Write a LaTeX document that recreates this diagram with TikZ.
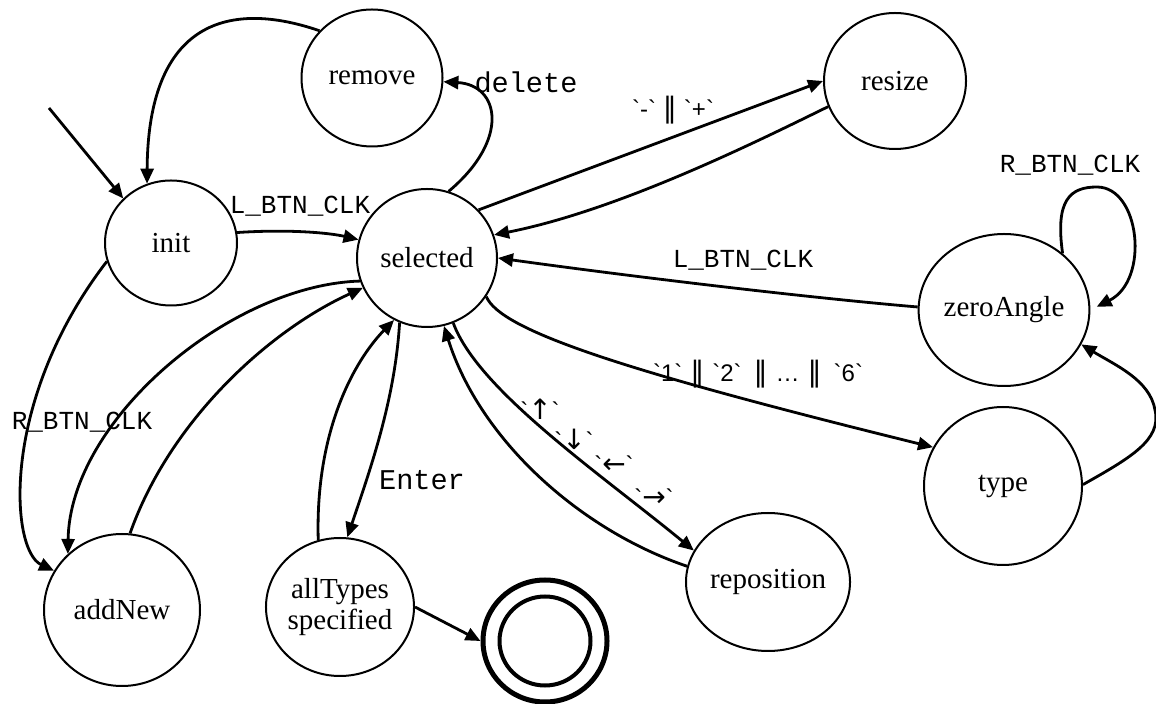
\documentclass[tikz,border=0pt]{standalone}
\usepackage{fontspec}
\setmainfont{Liberation Serif}
\newfontfamily\lblmono{Liberation Mono}
\newfontfamily\lblsans[Ligatures=TeXOff]{Liberation Sans}
\newfontfamily\lblsym{DejaVu Sans}
\usetikzlibrary{arrows.meta,shapes.geometric}
\newcommand{\dvbar}{{\lblsym\fontsize{14}{16}\selectfont ‖}}
\newcommand{\arr}[1]{{\lblsym\fontsize{14}{16}\selectfont #1}}
\tikzset{
  state/.style={draw, ellipse, line width=1pt, inner sep=0pt, outer sep=0.5pt,
    font=\fontsize{14.5}{15.5}\selectfont, align=center},
  accept/.style={draw, ellipse, line width=2.5pt, inner sep=0pt},
  tr/.style={line width=1.4pt, -{Triangle[length=7.5pt,width=6.5pt]}},
  monolbl/.style={inner sep=0pt, font=\lblmono\fontsize{13}{15}\selectfont},
  monobig/.style={inner sep=0pt, font=\lblmono\fontsize{14.3}{16}\selectfont},
  keylbl/.style={inner sep=0pt, font=\lblsans\fontsize{12}{14}\selectfont}
}
\begin{document}
\begin{tikzpicture}[x=0.5pt,y=-0.5pt]
\useasboundingbox (0,0) rectangle (1156,704);

% states
\node[state, minimum width=70.5pt, minimum height=68.5pt] (remove) at (372,78) {remove};
\node[state, minimum width=66pt, minimum height=62.5pt] (init) at (171,243) {init};
\node[state, minimum width=70pt, minimum height=69pt] (selected) at (427,258) {selected};
\node[state, minimum width=71pt, minimum height=68pt] (resize) at (895,81) {resize};
\node[state, minimum width=78pt, minimum height=76pt] (zeroAngle) at (1004,310) {zeroAngle};
\node[state, minimum width=79pt, minimum height=79pt] (type) at (1003,486) {type};
\node[state, minimum width=71pt, minimum height=69pt] (reposition) at (768,582) {reposition};
\node[state, minimum width=71pt, minimum height=69pt] (allTypes) at (340,607) {allTypes\\specified};
\node[state, minimum width=78pt, minimum height=76pt] (addNew) at (122,610) {addNew};
\node[accept, minimum width=62pt, minimum height=61pt] (final) at (545,641) {};
\draw[line width=2pt] (final.center) ellipse [x radius=22.75pt, y radius=22.25pt];

\coordinate (start) at (49,108);

% transitions
\draw[tr] (start) -- (init.137.5);
\draw[tr] (remove.138) .. controls (230,0) and (148,20) .. (init.112);
\draw[tr] (selected.72) .. controls (510,140) and (500,85) .. (remove.357);
\draw[tr] (init.9) .. controls (290,229) and (330,233) .. (selected.165);
\draw[tr] (init.196) .. controls (0,400) and (10,550) .. (addNew.150);
\draw[tr] (selected.199) .. controls (230,285) and (70,420) .. (addNew.134);
\draw[tr] (addNew.84) .. controls (170,420) and (270,330) .. (selected.205);
\draw[tr] (allTypes.108) .. controls (315,430) and (355,360) .. (selected.242);
\draw[tr] (selected.247) .. controls (395,400) and (370,470) .. (allTypes.84);
\draw[tr] (allTypes.0) -- (final.180);
\draw[tr] (selected.292) .. controls (478,390) and (598,472) .. (reposition.157);
\draw[tr] (reposition.169) .. controls (580,530) and (480,440) .. (selected.284);
\draw[tr] (selected.327) .. controls (500,330) and (620,370) .. (type.151);
\draw[tr] (selected.43) -- (resize.180);
\draw[tr] (resize.201) .. controls (760,140) and (620,210) .. (selected.19);
\draw[tr] (zeroAngle.178) .. controls (800,297) and (620,275) .. (selected.0);
\draw[tr, shorten >=3.5pt] (zeroAngle.44) .. controls (1055,200) and (1070,187) .. (1097,187)
   .. controls (1140,187) and (1150,280) .. (zeroAngle.0);
\draw[tr] (type.1) .. controls (1130,458) and (1162,440) .. (1155,410)
   .. controls (1150,380) and (1115,365) .. (zeroAngle.336);

% labels
\node[monolbl] (l1) at (300,206) {L\_BTN\_CLK};
\node[monobig] (l2) at (526,82) {delete};
\node[keylbl] (l3) at (673,110) {`-`\hspace{3.5pt}\dvbar\hspace{3.5pt}`+`};
\node[monolbl] (l4) at (743,260) {L\_BTN\_CLK};
\node[monolbl] (l5) at (1070,165) {R\_BTN\_CLK};
\node[monolbl] (l6) at (82,422) {R\_BTN\_CLK};
\node[monobig] (l7) at (422,480) {Enter};
\node[keylbl] (l8) at (758,374) {`1`\hspace{4pt}\dvbar\hspace{4pt}`2`\hspace{6pt}\dvbar\hspace{4pt}…\hspace{4pt}\dvbar\hspace{6pt}`6`};
\node[keylbl] (l9) at (540,409) {`\arr{↑}`};
\node[keylbl] (l10) at (574,439) {`\arr{↓}`};
\node[keylbl] (l11) at (614,465) {`\arr{←}`};
\node[keylbl] (l12) at (654,498) {`\arr{→}`};
\end{tikzpicture}
\end{document}
